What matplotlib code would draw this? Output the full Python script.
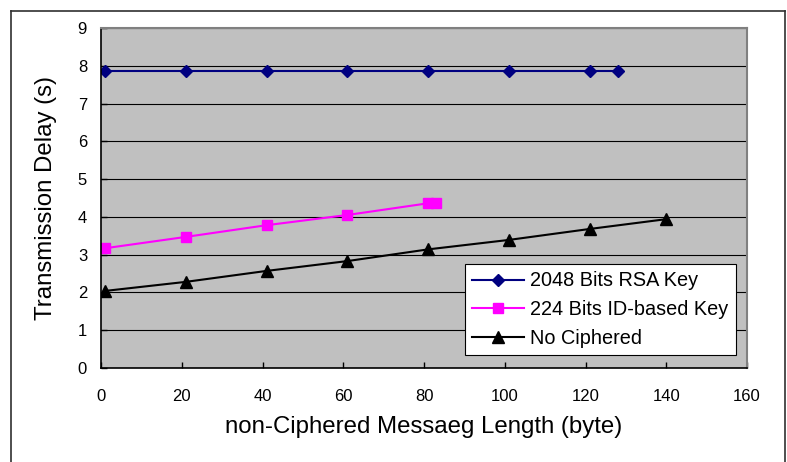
import matplotlib
matplotlib.use('Agg')
import matplotlib.pyplot as plt
from matplotlib.lines import Line2D

# values
rsa_x = [1, 21, 41, 61, 81, 101, 121, 128]
rsa_y = [7.85, 7.85, 7.85, 7.85, 7.85, 7.85, 7.85, 7.85]
ibe_x = [1, 21, 41, 61, 81, 83]
ibe_y = [3.17, 3.47, 3.78, 4.05, 4.36, 4.37]
plain_x = [1, 21, 41, 61, 81, 101, 121, 140]
plain_y = [2.04, 2.28, 2.57, 2.83, 3.14, 3.39, 3.68, 3.94]

labels = ['2048 Bits RSA Key', '224 Bits ID-based Key', 'No Ciphered']
x_ticks = [0, 20, 40, 60, 80, 100, 120, 140, 160]
y_ticks = [0, 1, 2, 3, 4, 5, 6, 7, 8, 9]

plt.rcParams['font.family'] = ['Liberation Sans', 'DejaVu Sans']

W, H = 787, 462
fig = plt.figure(figsize=(W / 100, H / 100), dpi=100)
ax = fig.add_axes([101 / W, 1 - 368 / H, 646 / W, 340 / H])
ax.set_facecolor('#C0C0C0')

ax.plot(rsa_x, rsa_y, color='#000080', lw=1.5, marker='D', ms=6, label=labels[0])
ax.plot(ibe_x, ibe_y, color='#FF00FF', lw=1.5, marker='s', ms=7.5, label=labels[1])
ax.plot(plain_x, plain_y, color='black', lw=1.5, marker='^', ms=8.5, label=labels[2])

ax.set_xlim(0, 160)
ax.set_ylim(0, 9)
ax.set_xticks(x_ticks)
ax.set_yticks(y_ticks)
ax.yaxis.grid(True, color='black', lw=0.8)
ax.set_axisbelow(True)

ax.tick_params(axis='x', direction='in', length=4, width=1, pad=15, labelsize=12)
ax.tick_params(axis='y', direction='in', length=4, width=1, pad=10, labelsize=12)

for s in ['left', 'bottom']:
    ax.spines[s].set_color('black')
    ax.spines[s].set_linewidth(1.2)
for s in ['top', 'right']:
    ax.spines[s].set_color('#808080')
    ax.spines[s].set_linewidth(1.5)

ax.set_xlabel('non-Ciphered Messaeg Length (byte)', fontsize=17.3, labelpad=9)
ax.set_ylabel('Transmission Delay (s)', fontsize=17.3, labelpad=15)

leg = ax.legend(loc='lower right', bbox_to_anchor=(0.9825, 0.038), borderaxespad=0,
                fontsize=14.3, frameon=True, fancybox=False, framealpha=1,
                edgecolor='black', handlelength=2.6, handletextpad=0.3,
                labelspacing=0.48, borderpad=0.38)
leg.get_frame().set_linewidth(0.8)

# outer chart border (bottom edge lies outside the picture)
bc = '#303030'
fig.add_artist(Line2D([10.5 / W, 10.5 / W], [0, 1 - 11 / H], transform=fig.transFigure, color=bc, lw=1.2))
fig.add_artist(Line2D([10.5 / W, 784.5 / W], [1 - 11 / H, 1 - 11 / H], transform=fig.transFigure, color=bc, lw=1.2))
fig.add_artist(Line2D([784.5 / W, 784.5 / W], [0, 1 - 11 / H], transform=fig.transFigure, color=bc, lw=1.2))

fig.savefig('out.png', dpi=100)
